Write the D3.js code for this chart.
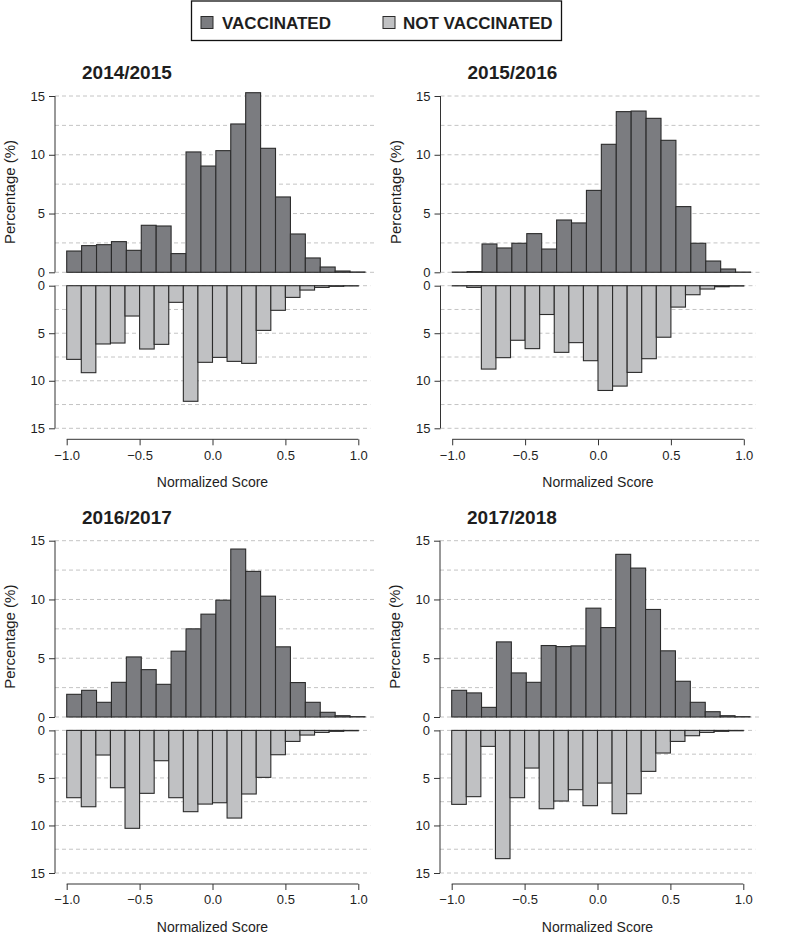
<!DOCTYPE html>
<html>
<head>
<meta charset="utf-8">
<script src="https://cdn.jsdelivr.net/npm/d3@7"></script>
<style>
  body { margin: 0; background: #fff; }
  svg { display: block; font-family: "Liberation Sans", Arial, sans-serif; }
</style>
</head>
<body>
<svg id="chart" width="800" height="935"></svg>
<script>
// bin starts (width 0.1)
var bins = [-1.0, -0.9, -0.8, -0.7, -0.6, -0.5, -0.4, -0.3, -0.2, -0.1,
            0.0, 0.1, 0.2, 0.3, 0.4, 0.5, 0.6, 0.7, 0.8, 0.9];

var seasons = ["2014/2015", "2015/2016", "2016/2017", "2017/2018"];

var vacc1415 = [1.81, 2.27, 2.35, 2.61, 1.87, 4.0, 3.94, 1.59, 10.24, 9.04,
                10.35, 12.62, 15.28, 10.55, 6.41, 3.26, 1.22, 0.45, 0.11, 0.03];
var notVacc1415 = [7.75, 9.15, 6.13, 6.03, 3.19, 6.66, 6.17, 1.75, 12.16, 8.06,
                   7.54, 7.96, 8.17, 4.70, 2.59, 1.23, 0.46, 0.18, 0.07, 0.03];

var vacc1516 = [0.02, 0.06, 2.41, 2.07, 2.47, 3.29, 1.98, 4.45, 4.20, 6.97,
                10.89, 13.67, 13.72, 13.10, 11.23, 5.59, 2.47, 0.96, 0.28, 0.02];
var notVacc1516 = [0.02, 0.18, 8.77, 7.57, 5.74, 6.62, 3.03, 7.01, 5.99, 7.89,
                   11.02, 10.56, 9.12, 7.68, 5.42, 2.25, 0.95, 0.35, 0.11, 0.04];

var vacc1617 = [1.93, 2.27, 1.25, 2.95, 5.11, 4.03, 2.78, 5.60, 7.50, 8.75,
                9.94, 14.29, 12.39, 10.28, 5.97, 2.93, 1.25, 0.40, 0.11, 0.03];
var notVacc1617 = [7.08, 8.03, 2.59, 6.03, 10.30, 6.62, 3.19, 7.08, 8.55, 7.75,
                   7.61, 9.22, 6.69, 4.94, 2.56, 1.16, 0.49, 0.21, 0.10, 0.04];

var vacc1718 = [2.27, 2.05, 0.82, 6.39, 3.75, 2.95, 6.08, 5.99, 6.05, 9.26,
                7.61, 13.84, 12.67, 9.15, 5.63, 3.04, 1.25, 0.45, 0.11, 0.03];
var notVacc1718 = [7.78, 6.97, 1.68, 13.49, 7.08, 3.96, 8.24, 7.43, 6.24, 7.92,
                   5.54, 8.76, 6.66, 4.31, 2.38, 1.16, 0.56, 0.21, 0.10, 0.04];

var vaccSeries = [vacc1415, vacc1516, vacc1617, vacc1718];
var notVaccSeries = [notVacc1415, notVacc1516, notVacc1617, notVacc1718];

var yTicks = [0, 5, 10, 15];
var gridTicks = [0, 2.5, 5, 7.5, 10, 12.5, 15];
var xTicks = [-1.0, -0.5, 0.0, 0.5, 1.0];
var legendLabels = ["VACCINATED", "NOT VACCINATED"];

var darkFill = "#7b7c80", lightFill = "#c0c1c3", barStroke = "#2b2b2b";
var textColor = "#1e1e1e", axisColor = "#333";

var svg = d3.select("#chart");

// legend
var legend = svg.append("g");
legend.append("rect")
  .attr("x", 191.5).attr("y", 1).attr("width", 370).attr("height", 39.5)
  .attr("fill", "none").attr("stroke", "#111").attr("stroke-width", 1.3);
var legendItems = [
  { label: legendLabels[0], fill: darkFill, sx: 201, tx: 222 },
  { label: legendLabels[1], fill: lightFill, sx: 383, tx: 403 }
];
legendItems.forEach(function(d) {
  legend.append("rect")
    .attr("x", d.sx).attr("y", 16.5).attr("width", 12).attr("height", 12)
    .attr("fill", d.fill).attr("stroke", barStroke).attr("stroke-width", 1);
  legend.append("text")
    .attr("x", d.tx).attr("y", 28.5)
    .attr("font-size", 17).attr("font-weight", "bold").attr("fill", textColor)
    .text(d.label);
});

// panel offsets
var offsets = [[0, 0], [385.5, 0], [0, 444.7], [385, 444.7]];

function fmt(v) {
  return d3.format(".1f")(v).replace("-", "\u2212");
}

seasons.forEach(function(season, i) {
  var dx = offsets[i][0], dy = offsets[i][1];
  var g = svg.append("g").attr("transform", "translate(" + dx + "," + dy + ")");

  var axisX = 55;
  var xUp = d3.scaleLinear().domain([-1, 1]).range([66.7, 365]);
  var xLow = d3.scaleLinear().domain([-1, 1]).range([66.7, 358.3]);
  var yUp = d3.scaleLinear().domain([0, 15]).range([272.3, 96]);
  var yLow = d3.scaleLinear().domain([0, 15]).range([285.7, 428.3]);

  // title
  g.append("text")
    .attr("x", 82).attr("y", 79)
    .attr("font-size", 19).attr("font-weight", "bold").attr("fill", textColor)
    .text(season);

  // grid lines
  g.append("g").selectAll("line").data(gridTicks).enter().append("line")
    .attr("x1", axisX).attr("x2", xUp(1) + 12)
    .attr("y1", function(d) { return yUp(d); })
    .attr("y2", function(d) { return yUp(d); })
    .attr("stroke", "#c4c4c4").attr("stroke-dasharray", "4,3").attr("stroke-width", 1);
  g.append("g").selectAll("line").data(gridTicks).enter().append("line")
    .attr("x1", axisX).attr("x2", xLow(1) + 12)
    .attr("y1", function(d) { return yLow(d); })
    .attr("y2", function(d) { return yLow(d); })
    .attr("stroke", "#c4c4c4").attr("stroke-dasharray", "4,3").attr("stroke-width", 1);

  // upper bars (vaccinated)
  g.append("g").selectAll("rect").data(vaccSeries[i]).enter().append("rect")
    .attr("x", function(d, j) { return xUp(bins[j]); })
    .attr("width", function(d, j) { return xUp(bins[j] + 0.1) - xUp(bins[j]); })
    .attr("y", function(d) { return yUp(d); })
    .attr("height", function(d) { return yUp(0) - yUp(d); })
    .attr("fill", darkFill).attr("stroke", barStroke).attr("stroke-width", 1.1);

  // lower bars (not vaccinated)
  g.append("g").selectAll("rect").data(notVaccSeries[i]).enter().append("rect")
    .attr("x", function(d, j) { return xLow(bins[j]); })
    .attr("width", function(d, j) { return xLow(bins[j] + 0.1) - xLow(bins[j]); })
    .attr("y", yLow(0))
    .attr("height", function(d) { return yLow(d) - yLow(0); })
    .attr("fill", lightFill).attr("stroke", barStroke).attr("stroke-width", 1.1);

  // y axes
  var yAxisUp = d3.axisLeft(yUp).tickValues(yTicks).tickSize(6).tickPadding(4)
    .tickFormat(d3.format("d"));
  var yAxisLow = d3.axisLeft(yLow).tickValues(yTicks).tickSize(6).tickPadding(4)
    .tickFormat(d3.format("d"));
  [[yAxisUp, 0], [yAxisLow, 1]].forEach(function(a) {
    var ag = g.append("g").attr("transform", "translate(" + axisX + ",0)").call(a[0]);
    ag.select(".domain").attr("d", a[1] === 0
      ? "M0," + yUp(15) + "V" + yUp(0)
      : "M0," + yLow(0) + "V" + yLow(15))
      .attr("stroke", axisColor);
    ag.selectAll(".tick line").attr("stroke", axisColor);
    ag.selectAll(".tick text").attr("font-size", 13).attr("fill", textColor)
      .attr("font-family", "Liberation Sans, Arial, sans-serif");
  });

  // x axis
  var xAxis = d3.axisBottom(xLow).tickValues(xTicks).tickSize(6).tickPadding(5)
    .tickFormat(fmt);
  var xg = g.append("g").attr("transform", "translate(0,439.3)").call(xAxis);
  xg.select(".domain").attr("d", "M" + xLow(-1) + ",0H" + xLow(1)).attr("stroke", axisColor);
  xg.selectAll(".tick line").attr("stroke", axisColor);
  xg.selectAll(".tick text").attr("font-size", 13).attr("fill", textColor)
    .attr("font-family", "Liberation Sans, Arial, sans-serif");

  g.append("text")
    .attr("x", (xLow(-1) + xLow(1)) / 2).attr("y", 487)
    .attr("text-anchor", "middle").attr("font-size", 14).attr("fill", textColor)
    .text("Normalized Score");

  g.append("text")
    .attr("transform", "translate(15,192) rotate(-90)")
    .attr("text-anchor", "middle").attr("font-size", 15).attr("fill", textColor)
    .text("Percentage (%)");
});
</script>
</body>
</html>
